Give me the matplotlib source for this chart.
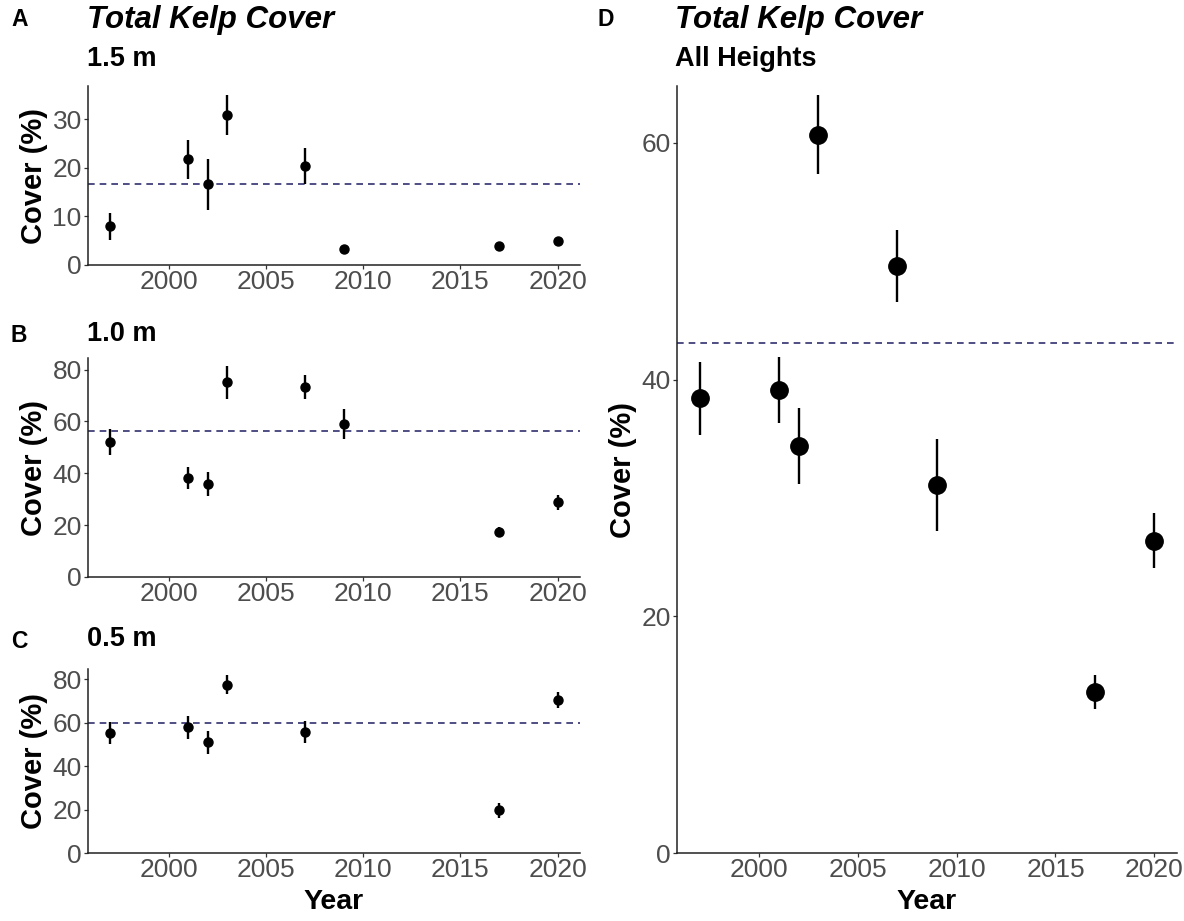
import numpy as np
import matplotlib
matplotlib.use("Agg")
import matplotlib.pyplot as plt

plt.rcParams['font.family'] = ['Liberation Sans', 'DejaVu Sans']

W, H = 1184, 921

years = [1997, 2001, 2002, 2003, 2007, 2009, 2017, 2020]

# 1.5 m
cover_15 = [8.0, 21.8, 16.6, 30.9, 20.4, 3.2, 3.9, 5.0]
err_15 = [2.8, 4.0, 5.3, 4.1, 3.7, 0.6, 0.5, 0.6]
mean_15 = 16.7

# 1.0 m
cover_10 = [52.0, 38.2, 36.0, 75.2, 73.3, 59.1, 17.2, 28.8]
err_10 = [5.0, 4.4, 4.6, 6.4, 4.7, 5.7, 1.9, 3.0]
mean_10 = 56.3

# 0.5 m (no 2009 survey)
years_05 = [1997, 2001, 2002, 2003, 2007, 2017, 2020]
cover_05 = [55.3, 57.8, 50.9, 77.5, 55.6, 19.6, 70.3]
err_05 = [5.0, 5.2, 5.1, 4.3, 5.1, 3.6, 3.6]
mean_05 = 59.9

# all heights
cover_all = [38.4, 39.1, 34.4, 60.7, 49.6, 31.1, 13.6, 26.4]
err_all = [3.05, 2.8, 3.2, 3.3, 3.05, 3.9, 1.4, 2.3]
mean_all = 43.1

xticks = [2000, 2005, 2010, 2015, 2020]


def box(x0, y0, x1, y1):
    # pixel box (top-left origin) -> figure fraction rect
    return [x0 / W, 1 - y1 / H, (x1 - x0) / W, (y1 - y0) / H]


def style_axis(ax, ymax, yticks, xlabel=False):
    ax.set_xlim(1995.85, 2021.15)
    ax.set_ylim(0, ymax)
    ax.set_xticks(xticks)
    ax.set_yticks(yticks)
    for s in ['top', 'right']:
        ax.spines[s].set_visible(False)
    for s in ['left', 'bottom']:
        ax.spines[s].set_linewidth(1.1)
        ax.spines[s].set_color('#222222')
    ax.tick_params(colors='#333333', labelcolor='#4D4D4D', labelsize=19,
                   length=3, width=0.9)
    ax.tick_params(axis='x', pad=0.5)
    ax.tick_params(axis='y', pad=1.5)
    ax.set_ylabel("Cover (%)", fontsize=21, fontweight='bold', labelpad=3)
    if xlabel:
        ax.set_xlabel("Year", fontsize=20.5, fontweight='bold', labelpad=5)


def draw(ax, x, y, e, m, ms):
    ax.axhline(m, color='#30306e', linestyle=(0, (4, 3)), linewidth=1.2, zorder=1)
    ax.errorbar(x, y, yerr=e, fmt='o', color='black', ms=ms,
                elinewidth=1.7, capsize=0, zorder=3)


fig = plt.figure(figsize=(W / 100, H / 100), dpi=100)

axA = fig.add_axes(box(88, 86, 580, 265))
draw(axA, years, cover_15, err_15, mean_15, 6.5)
style_axis(axA, 36.9, [0, 10, 20, 30])

axB = fig.add_axes(box(88, 358, 580, 577))
draw(axB, years, cover_10, err_10, mean_10, 6.5)
style_axis(axB, 84.5, [0, 20, 40, 60, 80])

axC = fig.add_axes(box(88, 669, 580, 853))
draw(axC, years_05, cover_05, err_05, mean_05, 6.5)
style_axis(axC, 84.7, [0, 20, 40, 60, 80], xlabel=True)

axD = fig.add_axes(box(677, 86, 1177, 853))
draw(axD, years, cover_all, err_all, mean_all, 12.5)
style_axis(axD, 64.8, [0, 20, 40, 60], xlabel=True)


def label(x, y, s, **kw):
    fig.text(x / W, 1 - y / H, s, va='center', ha='left', **kw)


label(11, 19, "A", fontsize=16.5, fontweight='bold')
label(87, 20, "Total Kelp Cover", fontsize=22.5, fontweight='bold', style='italic')
label(87, 59, "1.5 m", fontsize=19.5, fontweight='bold')
label(11, 336, "B", fontsize=16.5, fontweight='bold')
label(87, 334, "1.0 m", fontsize=19.5, fontweight='bold')
label(11, 641, "C", fontsize=16.5, fontweight='bold')
label(87, 639, "0.5 m", fontsize=19.5, fontweight='bold')
label(597, 19, "D", fontsize=16.5, fontweight='bold')
label(675, 20, "Total Kelp Cover", fontsize=22.5, fontweight='bold', style='italic')
label(675, 59, "All Heights", fontsize=19.5, fontweight='bold')

fig.savefig("out.png", dpi=100)
